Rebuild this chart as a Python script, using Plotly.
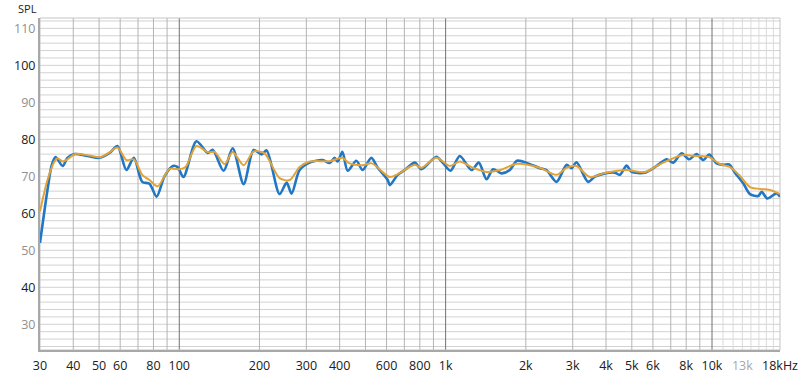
import plotly.graph_objects as go

# Raw measurement (blue)
raw_freq = [30, 32, 33.2, 34.3, 36.5, 38, 40.4, 45.2, 50.2, 54.7, 58.6, 63.3, 67.5, 72.6, 77.3,
            82.2, 88, 94.6, 98.6, 103.7, 116, 128, 133.5, 146.7, 158.6, 174.4, 190.2, 203.8, 212.8,
            238, 253, 264, 283, 308.7, 345, 367, 383, 393, 409.6, 428.8, 462, 488, 526, 556, 606,
            617, 661, 702, 766, 811, 923, 975, 1043, 1130, 1250, 1332, 1424, 1507, 1620, 1741,
            1854, 2040, 2256, 2391, 2607, 2845, 2969, 3100, 3427, 3632, 3960, 4317, 4509, 4779,
            4990, 5598, 6196, 6754, 7152, 7689, 8211, 8754, 9270, 9762, 10407, 11019, 11604,
            12190, 13098, 13880, 14917, 15360, 16125, 17493, 18000]
raw_spl = [52, 66.3, 73, 75.2, 72.8, 75, 76, 75.5, 75, 76.3, 78.2, 71.7, 75, 68.5, 68,
           64.5, 70, 72.8, 72.5, 69.8, 79.5, 76.3, 77.2, 71.5, 77.6, 67.9, 77.1, 75.9, 77,
           65.2, 68.3, 65.3, 71.7, 73.7, 74.4, 73.6, 75, 74, 76.6, 71.5, 74.2, 71.7, 75, 72.3, 69,
           67.6, 70.4, 71.7, 73.7, 71.9, 75.3, 73.7, 71.5, 75.5, 71.7, 73.7, 69.2, 71.9, 70.8, 71.7,
           74.2, 73.5, 72.2, 71.7, 68.5, 73.1, 72.2, 73.8, 68.5, 69.9, 70.8, 71, 70.4, 72.9,
           71.2, 71, 72.8, 74.6, 73.7, 76.2, 74.6, 76, 74.4, 75.9, 73.5, 73.1, 73.2,
           71, 68.1, 65.2, 64.7, 65.8, 64, 65.4, 64.5]

# Smoothed response (orange)
smooth_freq = [30, 32, 34, 34.9, 36.5, 38, 40.8, 46, 50.6, 54.7, 58.6, 63.3, 67.5, 72.6, 77.3,
               82.9, 92, 100.3, 105.6, 116, 128, 135.7, 148, 158.6, 174.4, 190.2, 209, 238, 259.8,
               283, 308.7, 367, 409, 436, 488, 528, 617, 661, 766, 811, 923, 1037, 1130, 1250,
               1424, 1602, 1854, 2256, 2607, 2845, 3100, 3478, 3960, 4779, 5598, 6196, 6754,
               7689, 8754, 9762, 10726, 11697, 12735, 13880, 15137, 16504, 18000]
smooth_spl = [60.5, 69, 74, 74.9, 74, 74.6, 76.1, 75.6, 75.2, 76.5, 77.8, 74.4, 74.6, 70.4, 69,
              67.3, 72, 71.9, 72.5, 78.2, 76.5, 76.6, 73.3, 76.6, 73, 76.7, 76.2, 69.5, 69,
              72.5, 74, 74.1, 75, 73.5, 73, 73.5, 69.8, 70.6, 73.1, 72.3, 75, 72.8, 74, 72.5,
              71.2, 71.7, 73.4, 72.3, 70.4, 72.3, 72.8, 69.8, 70.9, 71.7, 71.1, 72.8, 74.1,
              75.7, 75.5, 75.2, 73.3, 72.5, 70.1, 67.1, 66.6, 66.3, 65.2]

x_tick_vals = [30, 40, 50, 60, 80, 100, 200, 300, 400, 600, 800, 1000, 2000, 3000, 4000,
               5000, 6000, 8000, 10000, 13000, 18000]
x_tick_text = ["30", "40", "50", "60", "80", "100", "200", "300", "400", "600", "800", "1k",
               "2k", "3k", "4k", "5k", "6k", "8k", "10k",
               "<span style='color:#a8a8a8'>13k</span>", "18kHz"]
y_tick_vals = [30, 40, 50, 60, 70, 80, 90, 100, 110]
y_tick_text = ["<span style='color:#909090'>30</span>", "40",
               "<span style='color:#909090'>50</span>", "60",
               "<span style='color:#909090'>70</span>", "80",
               "<span style='color:#909090'>90</span>", "100",
               "<span style='color:#909090'>110</span>"]

X_MIN, X_MAX = 30, 18000
Y_MIN, Y_MAX = 23.05, 112.8

fig = go.Figure()
fig.add_trace(go.Scatter(x=raw_freq, y=raw_spl, mode="lines",
                         line=dict(color="#2277c4", width=2.6, shape="spline", smoothing=0.8),
                         hoverinfo="skip", showlegend=False))
fig.add_trace(go.Scatter(x=smooth_freq, y=smooth_spl, mode="lines",
                         line=dict(color="#e3a236", width=2.0, shape="spline", smoothing=0.8),
                         hoverinfo="skip", showlegend=False))

shapes = []
# horizontal grid every 2 dB
for v in range(24, 113, 2):
    shapes.append(dict(type="line", xref="paper", yref="y", x0=0, x1=1, y0=v, y1=v,
                       line=dict(color="#d2d2d2", width=1), layer="below"))
# vertical grid
grid_f = []
for dec in [10, 100, 1000]:
    for m in range(1, 10):
        f = m * dec
        if X_MIN < f < 10000:
            grid_f.append(f)
for f in grid_f:
    major = f in (100, 1000)
    shapes.append(dict(type="line", xref="x", yref="paper", x0=f, x1=f, y0=0, y1=1,
                       line=dict(color="#707070" if major else "#b4b4b4", width=1),
                       layer="below"))
shapes.append(dict(type="line", xref="x", yref="paper", x0=10000, x1=10000, y0=0, y1=1,
                   line=dict(color="#707070", width=1), layer="below"))
for k in range(11, 18):
    f = k * 1000
    shapes.append(dict(type="line", xref="x", yref="paper", x0=f, x1=f, y0=0, y1=1,
                       line=dict(color="#dadada", width=1), layer="below"))
# frame
shapes.append(dict(type="rect", xref="paper", yref="paper", x0=0, x1=1, y0=0, y1=1,
                   line=dict(color="#c4c4c4", width=1), layer="below"))

fig.update_layout(
    width=800, height=376,
    margin=dict(l=40, r=20, t=18, b=26, autoexpand=False),
    paper_bgcolor="white", plot_bgcolor="white",
    font=dict(family="Open Sans, Noto Sans, sans-serif", size=12, color="#202020"),
    shapes=shapes,
    xaxis=dict(type="log", range=[1.47712125, 4.25527251], tickmode="array",
               tickvals=x_tick_vals, ticktext=x_tick_text, showgrid=False, zeroline=False,
               showline=True, linecolor="#a8a8a8", linewidth=2, ticks="", tickangle=0,
               automargin=False, ticklabelstandoff=3,
               tickfont=dict(size=12.5, color="#202020")),
    yaxis=dict(range=[Y_MIN, Y_MAX], tickmode="array", tickvals=y_tick_vals,
               ticktext=y_tick_text, showgrid=False, zeroline=False, showline=True,
               linecolor="#a8a8a8", linewidth=2, ticks="", automargin=False,
               tickfont=dict(size=12.5, color="#202020")),
    annotations=[dict(text="SPL", xref="paper", yref="paper", x=0, y=1, xanchor="right",
                      yanchor="bottom", xshift=-1, yshift=0, showarrow=False,
                      font=dict(size=11, color="#202020"))],
)

fig.write_html("out.html")
